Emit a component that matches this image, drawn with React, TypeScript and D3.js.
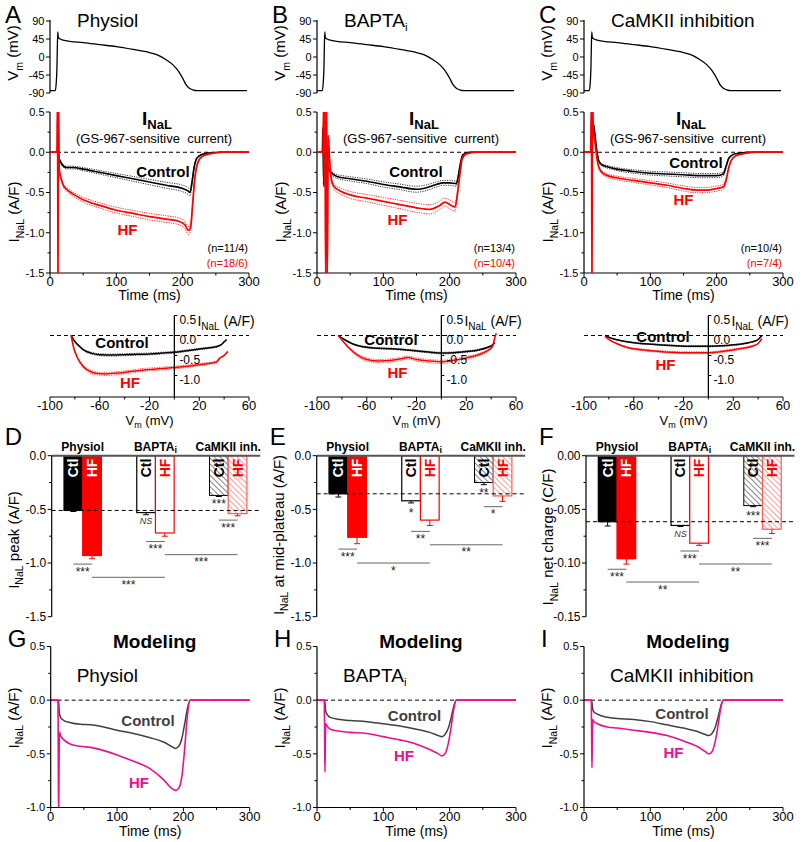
import React from 'react';
import * as d3 from 'd3';

type Pt = [number, number];

const FONT = 'Arial, "Liberation Sans", Helvetica, sans-serif';
const RED = '#ff0000';
const PINK = '#ec108c';
const DARK = '#404040';

// ---- AP-clamp waveform (same command for A, B, C), [ms, mV]
const apWave: Pt[] = [[0, -84], [8, -84], [9.5, -62], [10.5, -25], [11.2, 35], [11.8, 63], [12.4, 50], [14, 46], [20, 42], [30, 39], [50, 36], [75, 31], [100, 26], [125, 19], [150, 11], [165, 3], [175, -7], [185, -19], [190, -28], [195, -39], [200, -53], [205, -69], [210, -78], [215, -82], [222, -84], [297, -84]];

// ---- GS-967-sensitive INaL, mean traces [ms, A/F]
const inalCtlA: Pt[] = [[0, 0], [10, 0], [12, 0], [13, -0.05], [16, -0.12], [20, -0.17], [25, -0.19], [35, -0.19], [50, -0.21], [75, -0.25], [100, -0.29], [125, -0.33], [150, -0.37], [175, -0.41], [200, -0.45], [208, -0.48], [211, -0.5], [214, -0.38], [217, -0.2], [221, -0.08], [228, -0.03], [240, -0.01], [260, 0], [300, 0]];
const inalHfA: Pt[] = [[0, 0], [10.5, 0], [11.3, 0.6], [12.1, -1.6], [12.9, 0.6], [13.8, -0.2], [16, -0.3], [20, -0.41], [25, -0.46], [35, -0.52], [50, -0.59], [75, -0.66], [100, -0.72], [125, -0.76], [150, -0.8], [175, -0.83], [195, -0.86], [203, -0.9], [209, -0.97], [212, -0.93], [215, -0.65], [218, -0.35], [222, -0.15], [228, -0.06], [240, -0.02], [260, 0], [300, 0]];
const inalCtlB: Pt[] = [[0, 0], [8, 0], [9, 0.3], [10, -0.4], [11, 0.5], [12, 0.2], [14, -0.1], [17, -0.2], [20, -0.24], [30, -0.3], [50, -0.33], [75, -0.36], [100, -0.4], [125, -0.43], [150, -0.46], [165, -0.44], [180, -0.4], [190, -0.38], [200, -0.38], [210, -0.39], [213, -0.3], [216, -0.15], [220, -0.03], [230, 0], [300, 0]];
const inalHfB: Pt[] = [[0, 0], [9, 0], [10, 0.6], [11, -0.4], [12, 0.6], [13, -1.6], [14.5, 0.6], [15.5, -1.6], [17, 0.2], [19, -0.1], [22, -0.35], [26, -0.43], [35, -0.48], [50, -0.53], [75, -0.57], [100, -0.61], [125, -0.65], [150, -0.69], [170, -0.71], [185, -0.66], [193, -0.62], [200, -0.65], [208, -0.68], [212, -0.5], [215, -0.3], [219, -0.08], [225, -0.02], [240, 0], [300, 0]];
const inalCtlC: Pt[] = [[0, 0], [10, 0], [12, 0.1], [14, 0.35], [16, 0.25], [18, 0.1], [20, -0.02], [22, -0.1], [26, -0.15], [35, -0.18], [50, -0.21], [75, -0.24], [100, -0.26], [125, -0.27], [150, -0.28], [175, -0.29], [200, -0.29], [210, -0.27], [214, -0.18], [218, -0.08], [224, -0.03], [235, -0.01], [250, 0], [300, 0]];
const inalHfC: Pt[] = [[0, 0], [10, 0], [11.2, 0.6], [12, -1.6], [12.8, 0.6], [14, 0.3], [17, 0.1], [20, -0.1], [23, -0.2], [30, -0.27], [50, -0.32], [75, -0.35], [100, -0.38], [125, -0.41], [150, -0.45], [170, -0.47], [185, -0.47], [200, -0.45], [210, -0.43], [214, -0.35], [218, -0.2], [222, -0.1], [230, -0.04], [245, -0.01], [260, 0], [300, 0]];
// relative SEM of the traces (dotted envelopes)
const semCtl = [0.09, 0.08, 0.09];
const semHf = [0.05, 0.08, 0.07];

// ---- I-V relations during the AP [mV, A/F]
const ivCtlA: Pt[] = [[-83, 0], [-80, -0.15], [-76, -0.28], [-72, -0.38], [-67, -0.44], [-60, -0.48], [-50, -0.49], [-40, -0.48], [-30, -0.47], [-20, -0.46], [-10, -0.44], [0, -0.42], [10, -0.38], [20, -0.34], [30, -0.3], [35, -0.27], [38, -0.22], [40, -0.16], [42, -0.1]];
const ivHfA: Pt[] = [[-83, 0], [-81, -0.3], [-78, -0.55], [-74, -0.75], [-69, -0.88], [-62, -0.95], [-55, -0.96], [-45, -0.94], [-35, -0.9], [-25, -0.86], [-15, -0.84], [0, -0.8], [10, -0.77], [20, -0.73], [30, -0.69], [34, -0.66], [36, -0.58], [40, -0.5], [43, -0.4]];
const ivCtlB: Pt[] = [[-83, 0], [-78, -0.1], [-72, -0.2], [-65, -0.27], [-55, -0.31], [-40, -0.33], [-28, -0.36], [-15, -0.4], [0, -0.44], [10, -0.43], [20, -0.4], [30, -0.36], [37, -0.3], [41, -0.24], [43, -0.18]];
const ivHfB: Pt[] = [[-83, 0], [-79, -0.15], [-74, -0.32], [-68, -0.48], [-60, -0.6], [-50, -0.64], [-40, -0.62], [-32, -0.58], [-27, -0.55], [-20, -0.6], [-10, -0.64], [0, -0.66], [10, -0.62], [20, -0.56], [30, -0.48], [37, -0.38], [41, -0.28], [43, -0.05], [44, 0.05]];
const ivCtlC: Pt[] = [[-83, 0], [-78, -0.07], [-70, -0.13], [-60, -0.18], [-45, -0.22], [-30, -0.25], [-15, -0.27], [0, -0.27], [15, -0.25], [25, -0.22], [35, -0.16], [40, -0.1], [43, 0]];
const ivHfC: Pt[] = [[-83, -0.02], [-80, -0.1], [-74, -0.2], [-65, -0.3], [-50, -0.37], [-35, -0.41], [-20, -0.43], [0, -0.43], [15, -0.38], [25, -0.33], [35, -0.27], [40, -0.2], [43, -0.08]];

// ---- summary bars (D, E, F)
const groups = ['Physiol', 'BAPTA', 'CaMKII inh.'];
const peakCtl = [-0.51, -0.53, -0.37];
const peakHf = [-0.93, -0.72, -0.54];
const peakCtlErr = [0.01, 0.02, 0.01];
const peakHfErr = [0.03, 0.03, 0.02];
const plateauCtl = [-0.355, -0.42, -0.25];
const plateauHf = [-0.76, -0.6, -0.375];
const plateauCtlErr = [0.03, 0.02, 0.02];
const plateauHfErr = [0.06, 0.05, 0.05];
const chargeCtl = [-0.0615, -0.065, -0.0465];
const chargeHf = [-0.096, -0.0815, -0.0685];
const chargeCtlErr = [0.004, 0.001, 0.001];
const chargeHfErr = [0.005, 0.002, 0.004];

type Sig = { kind: 'pair' | 'cross' | 'mark'; g: number; g2?: number; y: number; label: string };
const sigPeak: Sig[] = [
  { kind: 'pair', g: 0, y: -1.01, label: '***' },
  { kind: 'cross', g: 0, g2: 1, y: -1.133, label: '***' },
  { kind: 'pair', g: 1, y: -0.8, label: '***' },
  { kind: 'cross', g: 1, g2: 2, y: -0.922, label: '***' },
  { kind: 'pair', g: 2, y: -0.6, label: '***' },
  { kind: 'mark', g: 1, y: -0.6, label: 'NS' },
  { kind: 'mark', g: 2, y: -0.422, label: '***' },
];
const sigPlateau: Sig[] = [
  { kind: 'pair', g: 0, y: -0.87, label: '***' },
  { kind: 'cross', g: 0, g2: 1, y: -1.0, label: '*' },
  { kind: 'pair', g: 1, y: -0.705, label: '**' },
  { kind: 'cross', g: 1, g2: 2, y: -0.83, label: '**' },
  { kind: 'pair', g: 2, y: -0.475, label: '*' },
  { kind: 'mark', g: 1, y: -0.505, label: '*' },
  { kind: 'mark', g: 2, y: -0.32, label: '**' },
];
const sigCharge: Sig[] = [
  { kind: 'pair', g: 0, y: -0.1058, label: '***' },
  { kind: 'cross', g: 0, g2: 1, y: -0.1177, label: '**' },
  { kind: 'pair', g: 1, y: -0.0888, label: '***' },
  { kind: 'cross', g: 1, g2: 2, y: -0.1009, label: '**' },
  { kind: 'pair', g: 2, y: -0.077, label: '***' },
  { kind: 'mark', g: 1, y: -0.0723, label: 'NS' },
  { kind: 'mark', g: 2, y: -0.0537, label: '***' },
];

// ---- modeling (G, H, I) [ms, A/F]
const modCtlG: Pt[] = [[0, 0], [11, 0], [12, -0.02], [13, -0.12], [15, -0.16], [20, -0.19], [30, -0.21], [45, -0.225], [60, -0.23], [80, -0.25], [100, -0.28], [125, -0.31], [150, -0.35], [170, -0.39], [182, -0.43], [188, -0.45], [193, -0.43], [198, -0.35], [202, -0.22], [206, -0.08], [210, 0], [300, 0]];
const modHfG: Pt[] = [[0, 0], [11, 0], [11.5, -0.6], [12, -1.1], [12.6, -0.6], [13.2, -0.3], [15, -0.33], [20, -0.37], [30, -0.41], [45, -0.43], [60, -0.44], [80, -0.47], [100, -0.51], [125, -0.57], [150, -0.64], [170, -0.74], [182, -0.82], [188, -0.84], [193, -0.82], [198, -0.7], [202, -0.45], [206, -0.15], [210, 0], [300, 0]];
const modCtlH: Pt[] = [[0, 0], [11, 0], [12, -0.02], [13, -0.1], [15, -0.13], [20, -0.16], [35, -0.18], [50, -0.19], [75, -0.2], [100, -0.22], [125, -0.24], [150, -0.27], [170, -0.3], [183, -0.33], [188, -0.34], [193, -0.32], [198, -0.26], [202, -0.17], [206, -0.06], [210, 0], [300, 0]];
const modHfH: Pt[] = [[0, 0], [11, 0], [11.6, -0.4], [12, -0.67], [12.5, -0.4], [13.2, -0.22], [15, -0.24], [20, -0.27], [35, -0.29], [50, -0.3], [75, -0.31], [100, -0.34], [125, -0.37], [150, -0.41], [170, -0.46], [183, -0.5], [188, -0.52], [193, -0.5], [198, -0.4], [202, -0.26], [206, -0.09], [210, 0], [300, 0]];
const modCtlI: Pt[] = [[0, 0], [11, 0], [12, -0.02], [13, -0.08], [15, -0.11], [20, -0.13], [35, -0.16], [50, -0.17], [75, -0.18], [100, -0.2], [125, -0.23], [150, -0.26], [170, -0.29], [183, -0.32], [188, -0.33], [193, -0.31], [198, -0.25], [202, -0.16], [206, -0.06], [210, 0], [300, 0]];
const modHfI: Pt[] = [[0, 0], [11, 0], [11.6, -0.4], [12, -0.63], [12.5, -0.4], [13.2, -0.18], [15, -0.2], [20, -0.22], [35, -0.25], [50, -0.26], [75, -0.28], [100, -0.3], [125, -0.33], [150, -0.38], [170, -0.43], [183, -0.48], [188, -0.5], [193, -0.48], [198, -0.38], [202, -0.24], [206, -0.08], [210, 0], [300, 0]];

const nCtl = ['(n=11/4)', '(n=13/4)', '(n=10/4)'];
const nHf = ['(n=18/6)', '(n=10/4)', '(n=7/4)'];

// layout
const colX = [50, 317, 584];
const colW = 199;
const inalCtl = [inalCtlA, inalCtlB, inalCtlC];
const inalHf = [inalHfA, inalHfB, inalHfC];
const ivCtl = [ivCtlA, ivCtlB, ivCtlC];
const ivHf = [ivHfA, ivHfB, ivHfC];
const modCtl = [modCtlG, modCtlH, modCtlI];
const modHf = [modHfG, modHfH, modHfI];
const ctlLabelPos = [[163, 177], [416, 177], [696, 168]];
const hfLabelPos = [[127.5, 235], [397.5, 225], [683.5, 205]];
const ivCtlLabel = [[122, 348], [391, 345], [663, 342]];
const ivHfLabel = [[130, 388], [397.5, 378], [665.5, 370]];
const modCtlLabel = [[148, 726], [414.5, 721], [682, 719]];
const modHfLabel = [[139, 788], [404, 761], [673.5, 758]];

const fmt1 = (v: number) => (Math.abs(v) < 1e-9 ? '0.0' : v.toFixed(1));
const fmt2 = (v: number) => (Math.abs(v) < 1e-9 ? '0.00' : v.toFixed(2));
const fmt0 = (v: number) => String(v);

const rel = (pts: Pt[], s: number): Pt[] => pts.map(([t, v]) => [t, v * (1 + s)]);

function Title({ i, x, y, fs }: { i: number; x: number; y: number; fs: number }) {
  if (i === 1) {
    return (
      <text x={x} y={y} fontSize={fs}>
        BAPTA<tspan fontSize={fs * 0.6} dy={fs * 0.22}>i</tspan>
      </text>
    );
  }
  return <text x={x} y={y} fontSize={fs}>{i === 0 ? 'Physiol' : 'CaMKII inhibition'}</text>;
}

function YLabel({ x, y, fs, main, sub, rest }: { x: number; y: number; fs: number; main: string; sub: string; rest: string }) {
  return (
    <text transform={`translate(${x},${y}) rotate(-90)`} textAnchor="middle" fontSize={fs}>
      {main}
      <tspan fontSize={fs * 0.7} dy={fs * 0.3}>{sub}</tspan>
      <tspan dy={-fs * 0.3}>{rest}</tspan>
    </text>
  );
}

function LeftAxis({ x, scale, ticks, minor = [], fmt, fs, top, bottom }: any) {
  return (
    <g>
      <line x1={x} x2={x} y1={top} y2={bottom} stroke="#000" strokeWidth={1.2} />
      {ticks.map((t: number) => (
        <g key={t}>
          <line x1={x - 4} x2={x} y1={scale(t)} y2={scale(t)} stroke="#000" />
          <text x={x - 5.5} y={scale(t)} dy="0.35em" textAnchor="end" fontSize={fs}>{fmt(t)}</text>
        </g>
      ))}
      {minor.map((t: number) => (
        <line key={'m' + t} x1={x - 2.5} x2={x} y1={scale(t)} y2={scale(t)} stroke="#000" />
      ))}
    </g>
  );
}

function BottomAxis({ y, scale, ticks, minor = [], fmt, fs, left, right, gap = 14 }: any) {
  return (
    <g>
      <line x1={left} x2={right} y1={y} y2={y} stroke="#000" strokeWidth={1.2} />
      {ticks.map((t: number) => (
        <g key={t}>
          <line x1={scale(t)} x2={scale(t)} y1={y} y2={y + 4} stroke="#000" />
          <text x={scale(t)} y={y + gap} textAnchor="middle" fontSize={fs}>{fmt(t)}</text>
        </g>
      ))}
      {minor.map((t: number) => (
        <line key={'m' + t} x1={scale(t)} x2={scale(t)} y1={y} y2={y + 2.5} stroke="#000" />
      ))}
    </g>
  );
}

function TopColumn({ i }: { i: number }) {
  const x0 = colX[i];
  const xT = d3.scaleLinear().domain([0, 300]).range([x0, x0 + colW]);
  const yV = d3.scaleLinear().domain([-90, 90]).range([93, 21]);
  const yI = d3.scaleLinear().domain([-1.5, 0.5]).range([273, 112]);
  const xV = d3.scaleLinear().domain([-100, 60]).range([x0, x0 + colW]);
  const yIV = d3.scaleLinear().domain([-1.5, 0.5]).range([395.5, 315.5]);
  const apLine = d3.line<Pt>().x(d => xT(d[0])).y(d => yV(d[1])).curve(d3.curveMonotoneX);
  const iLine = d3.line<Pt>().x(d => xT(d[0])).y(d => yI(d[1])).curve(d3.curveMonotoneX);
  const ivLine = d3.line<Pt>().x(d => xV(d[0])).y(d => yIV(d[1])).curve(d3.curveMonotoneX);
  const ax0 = xV(0);
  const letter = ['A', 'B', 'C'][i];
  return (
    <g>
      <text x={x0 - 45} y={23} fontSize={24}>{letter}</text>
      <Title i={i} x={x0 + 27} y={27} fs={19} />
      {/* Vm */}
      <LeftAxis x={x0} scale={yV} ticks={[90, 45, 0, -45, -90]} fmt={fmt0} fs={11} top={20} bottom={93} />
      <YLabel x={x0 - 32} y={53} fs={15} main="V" sub="m" rest=" (mV)" />
      <path d={apLine(apWave) || ''} fill="none" stroke="#000" strokeWidth={1.3} />

      {/* INaL time course */}
      <clipPath id={`clipI${i}`}>
        <rect x={x0} y={yI(0.5)} width={colW} height={yI(-1.5) - yI(0.5)} />
      </clipPath>
      <LeftAxis x={x0} scale={yI} ticks={[0.5, 0, -0.5, -1, -1.5]} minor={[0.25, -0.25, -0.75, -1.25]} fmt={fmt1} fs={11} top={yI(0.5)} bottom={yI(-1.5)} />
      <BottomAxis y={yI(-1.5)} scale={xT} ticks={[0, 100, 200, 300]} minor={[50, 150, 250]} fmt={fmt0} fs={13} left={x0} right={x0 + colW} gap={12.5} />
      <text x={x0 + colW / 2} y={300} textAnchor="middle" fontSize={14}>Time (ms)</text>
      <YLabel x={x0 - 31} y={212} fs={15} main="I" sub="NaL" rest=" (A/F)" />
      <line x1={x0} x2={x0 + colW} y1={yI(0)} y2={yI(0)} stroke="#000" strokeDasharray="4,3" strokeWidth={1} />
      <g clipPath={`url(#clipI${i})`}>
        {[semCtl[i], -semCtl[i]].map((s, k) => (
          <path key={'c' + k} d={iLine(rel(inalCtl[i], s)) || ''} fill="none" stroke="#000" strokeWidth={0.8} strokeDasharray="1.2,1.2" />
        ))}
        <path d={iLine(inalCtl[i]) || ''} fill="none" stroke="#000" strokeWidth={1.6} />
        {[semHf[i], -semHf[i]].map((s, k) => (
          <path key={'h' + k} d={iLine(rel(inalHf[i], s)) || ''} fill="none" stroke={RED} strokeWidth={0.8} strokeDasharray="1.2,1.2" />
        ))}
        <path d={iLine(inalHf[i]) || ''} fill="none" stroke={RED} strokeWidth={1.7} />
      </g>
      <text x={x0 + 107} y={125} textAnchor="middle" fontSize={19} fontWeight="bold">
        I<tspan fontSize={13} dy={4}>NaL</tspan>
      </text>
      <text x={x0 + 104} y={143} textAnchor="middle" fontSize={13}>(GS-967-sensitive{'\u00a0 '}current)</text>
      <text x={ctlLabelPos[i][0]} y={ctlLabelPos[i][1]} textAnchor="middle" fontSize={15} fontWeight="bold">Control</text>
      <text x={hfLabelPos[i][0]} y={hfLabelPos[i][1]} textAnchor="middle" fontSize={15} fontWeight="bold" fill={RED}>HF</text>
      <text x={x0 + colW - 1} y={252} textAnchor="end" fontSize={11}>{nCtl[i]}</text>
      <text x={x0 + colW - 1} y={267} textAnchor="end" fontSize={11} fill={RED}>{nHf[i]}</text>

      {/* I-V */}
      <line x1={xV(-100)} x2={xV(60)} y1={yIV(0)} y2={yIV(0)} stroke="#000" strokeDasharray="4,3" strokeWidth={1} />
      {[semCtl[i], -semCtl[i]].map((s, k) => (
        <path key={'ic' + k} d={ivLine(rel(ivCtl[i], s * 0.6)) || ''} fill="none" stroke="#000" strokeWidth={0.7} strokeDasharray="1.2,1.2" />
      ))}
      <path d={ivLine(ivCtl[i]) || ''} fill="none" stroke="#000" strokeWidth={1.5} />
      {[semHf[i], -semHf[i]].map((s, k) => (
        <path key={'ih' + k} d={ivLine(rel(ivHf[i], s * 0.8)) || ''} fill="none" stroke={RED} strokeWidth={0.7} strokeDasharray="1.2,1.2" />
      ))}
      <path d={ivLine(ivHf[i]) || ''} fill="none" stroke={RED} strokeWidth={1.5} />
      <line x1={ax0} x2={ax0} y1={yIV(0.5)} y2={397} stroke="#000" strokeWidth={1.3} />
      {[0.5, 0, -0.5, -1].map(t => (
        <g key={'iy' + t}>
          <line x1={ax0} x2={ax0 + 3} y1={yIV(t)} y2={yIV(t)} stroke="#000" />
          <text x={ax0 + 5} y={yIV(t) + 4} dy="0.35em" fontSize={12}>{fmt1(t)}</text>
        </g>
      ))}
      <text x={ax0 + 23} y={326} fontSize={14}>
        I<tspan fontSize={10} dy={4}>NaL</tspan><tspan dy={-4}> (A/F)</tspan>
      </text>
      <BottomAxis y={397} scale={xV} ticks={[-100, -60, -20, 20, 60]} minor={[-80, -40, 0, 40]} fmt={fmt0} fs={13} left={x0} right={x0 + colW} gap={12.5} />
      <text x={xV(-20)} y={425} textAnchor="middle" fontSize={13}>
        V<tspan fontSize={9} dy={3}>m</tspan><tspan dy={-3}> (mV)</tspan>
      </text>
      <text x={ivCtlLabel[i][0]} y={ivCtlLabel[i][1]} textAnchor="middle" fontSize={15} fontWeight="bold">Control</text>
      <text x={ivHfLabel[i][0]} y={ivHfLabel[i][1]} textAnchor="middle" fontSize={15} fontWeight="bold" fill={RED}>HF</text>
    </g>
  );
}

const barAxisX = [51.7, 316.7, 586];
const barYMin = [-1.5, -1.5, -0.15];
const barTicks = [[0, -0.5, -1, -1.5], [0, -0.5, -1, -1.5], [0, -0.05, -0.1, -0.15]];
const barMinor = [[-0.25, -0.75, -1.25], [-0.25, -0.75, -1.25], [-0.025, -0.075, -0.125]];
const barCtl = [peakCtl, plateauCtl, chargeCtl];
const barHf = [peakHf, plateauHf, chargeHf];
const barCtlErr = [peakCtlErr, plateauCtlErr, chargeCtlErr];
const barHfErr = [peakHfErr, plateauHfErr, chargeHfErr];
const barSig = [sigPeak, sigPlateau, sigCharge];
const barYLabel = [' peak (A/F)', ' at mid-plateau (A/F)', ' net charge (C/F)'];
const barYLabelY = [540, 535, 537];
const ctlFill = ['#000', '#fff', 'url(#hatchK)'];
const hfFill = [RED, '#fff', 'url(#hatchR)'];
const ctlText = ['#fff', '#000', '#000'];
const hfText = ['#fff', RED, RED];

function BarPanel({ p }: { p: number }) {
  const ax = barAxisX[p];
  const y = d3.scaleLinear().domain([barYMin[p], 0]).range([616.7, 455.7]);
  const gx = d3.scalePoint<number>().domain([0, 1, 2]).range([ax + 31, ax + 176.5]);
  const side = d3.scaleBand<string>().domain(['Ctl', 'HF']).range([-18.7, 18.7]);
  const bw = side.bandwidth();
  const cx = (g: number, s: string) => (gx(g) as number) + (side(s) as number) + bw / 2;
  const fmt = p === 2 ? fmt2 : fmt1;
  const letter = ['D', 'E', 'F'][p];
  return (
    <g>
      <text x={ax - 47} y={445} fontSize={24}>{letter}</text>
      {groups.map((g, k) => (
        <text key={g} x={gx(k)} y={451} textAnchor="middle" fontSize={12} fontWeight="bold">
          {g}{k === 1 ? <tspan fontSize={9} dy={2}>i</tspan> : null}
        </text>
      ))}
      {groups.map((g, k) => {
        const c0 = (gx(k) as number) + (side('Ctl') as number);
        const h0 = (gx(k) as number) + (side('HF') as number);
        const vc = barCtl[p][k];
        const vh = barHf[p][k];
        return (
          <g key={'b' + g}>
            <rect x={c0} y={y(0)} width={bw} height={y(vc) - y(0)} fill={ctlFill[k]} stroke="#000" strokeWidth={k === 2 ? 1 : 1.2} />
            <rect x={h0} y={y(0)} width={bw} height={y(vh) - y(0)} fill={hfFill[k]} stroke={k === 2 ? '#ff5a5a' : RED} strokeWidth={1.2} />
            <line x1={c0 + bw / 2} x2={c0 + bw / 2} y1={y(vc)} y2={y(vc - barCtlErr[p][k])} stroke="#000" />
            <line x1={c0 + bw / 2 - 3} x2={c0 + bw / 2 + 3} y1={y(vc - barCtlErr[p][k])} y2={y(vc - barCtlErr[p][k])} stroke="#000" />
            <line x1={h0 + bw / 2} x2={h0 + bw / 2} y1={y(vh)} y2={y(vh - barHfErr[p][k])} stroke={RED} />
            <line x1={h0 + bw / 2 - 3} x2={h0 + bw / 2 + 3} y1={y(vh - barHfErr[p][k])} y2={y(vh - barHfErr[p][k])} stroke={RED} />
            <text transform={`translate(${c0 + bw / 2 + 5},${y(0) + 3}) rotate(-90)`} textAnchor="end" fontSize={14} fontWeight="bold" fill={ctlText[k]}>Ctl</text>
            <text transform={`translate(${h0 + bw / 2 + 5},${y(0) + 3}) rotate(-90)`} textAnchor="end" fontSize={14} fontWeight="bold" fill={hfText[k]}>HF</text>
          </g>
        );
      })}
      <line x1={ax} x2={ax + 208.5} y1={y(0)} y2={y(0)} stroke="#555" strokeWidth={2} />
      <line x1={ax} x2={ax + 208.5} y1={y(barCtl[p][0])} y2={y(barCtl[p][0])} stroke="#000" strokeDasharray="4,3" strokeWidth={1} />
      <LeftAxis x={ax} scale={y} ticks={barTicks[p]} minor={barMinor[p]} fmt={fmt} fs={12} top={y(0)} bottom={y(barYMin[p])} />
      <YLabel x={ax - 33} y={barYLabelY[p]} fs={15} main="I" sub="NaL" rest={barYLabel[p]} />
      {barSig[p].map((s, k) => {
        if (s.kind === 'mark') {
          const xm = cx(s.g, 'Ctl');
          return s.label === 'NS'
            ? <text key={k} x={xm} y={y(s.y) + 3.5} textAnchor="middle" fontSize={9} fontStyle="italic" fill="#333">NS</text>
            : <text key={k} x={xm} y={y(s.y) + 6.6} textAnchor="middle" fontSize={12} fill="#222">{s.label}</text>;
        }
        const xa = s.kind === 'pair' ? cx(s.g, 'Ctl') : cx(s.g, 'HF');
        const xb = s.kind === 'pair' ? cx(s.g, 'HF') : cx(s.g2 as number, 'HF');
        return (
          <g key={k}>
            <line x1={xa} x2={xb} y1={y(s.y)} y2={y(s.y)} stroke="#666" strokeWidth={1} />
            <text x={(xa + xb) / 2} y={y(s.y) + 11.6} textAnchor="middle" fontSize={12} fill="#222">{s.label}</text>
          </g>
        );
      })}
    </g>
  );
}

function ModelPanel({ i }: { i: number }) {
  const x0 = colX[i] + (i === 0 ? 0.7 : 0);
  const xT = d3.scaleLinear().domain([0, 300]).range([x0, x0 + colW]);
  const y = d3.scaleLinear().domain([-1, 0.5]).range([807.5, 646.5]);
  const line = d3.line<Pt>().x(d => xT(d[0])).y(d => y(d[1])).curve(d3.curveMonotoneX);
  const letter = ['G', 'H', 'I'][i];
  return (
    <g>
      <text x={x0 - 43} y={647} fontSize={24}>{letter}</text>
      <text x={x0 + 104} y={648} textAnchor="middle" fontSize={19} fontWeight="bold">Modeling</text>
      <Title i={i} x={x0 + 26} y={682} fs={19} />
      <clipPath id={`clipM${i}`}>
        <rect x={x0} y={y(0.5)} width={colW} height={y(-1) - y(0.5)} />
      </clipPath>
      <line x1={x0} x2={x0 + colW} y1={y(0)} y2={y(0)} stroke="#000" strokeDasharray="4,3" strokeWidth={1} />
      <g clipPath={`url(#clipM${i})`}>
        <path d={line(modCtl[i]) || ''} fill="none" stroke={DARK} strokeWidth={1.5} />
        <path d={line(modHf[i]) || ''} fill="none" stroke={PINK} strokeWidth={1.6} />
      </g>
      <LeftAxis x={x0} scale={y} ticks={[0.5, 0, -0.5, -1]} minor={[0.25, -0.25, -0.75]} fmt={fmt1} fs={11} top={y(0.5)} bottom={y(-1)} />
      <BottomAxis y={y(-1)} scale={xT} ticks={[0, 100, 200, 300]} minor={[50, 150, 250]} fmt={fmt0} fs={13} left={x0} right={x0 + colW} gap={13} />
      <text x={x0 + colW / 2} y={836} textAnchor="middle" fontSize={14}>Time (ms)</text>
      <YLabel x={x0 - 32} y={718} fs={15} main="I" sub="NaL" rest=" (A/F)" />
      <text x={modCtlLabel[i][0]} y={modCtlLabel[i][1]} textAnchor="middle" fontSize={15} fontWeight="bold" fill={DARK}>Control</text>
      <text x={modHfLabel[i][0]} y={modHfLabel[i][1]} textAnchor="middle" fontSize={15} fontWeight="bold" fill={PINK}>HF</text>
    </g>
  );
}

export default function App() {
  return (
    <svg width={800} height={842} style={{ position: 'absolute', left: 0, top: 0, display: 'block' }} fontFamily={FONT}>
      <defs>
        <pattern id="hatchK" width={4} height={4} patternUnits="userSpaceOnUse" patternTransform="rotate(-45)">
          <rect width={4} height={4} fill="#fff" />
          <line x1={0} y1={0} x2={0} y2={4} stroke="#444" strokeWidth={1.3} />
        </pattern>
        <pattern id="hatchR" width={4} height={4} patternUnits="userSpaceOnUse" patternTransform="rotate(-45)">
          <rect width={4} height={4} fill="#fff" />
          <line x1={0} y1={0} x2={0} y2={4} stroke="#ff6a6a" strokeWidth={1.3} />
        </pattern>
      </defs>
      <rect width={800} height={842} fill="#fff" />
      {[0, 1, 2].map(i => <TopColumn key={'t' + i} i={i} />)}
      {[0, 1, 2].map(p => <BarPanel key={'b' + p} p={p} />)}
      {[0, 1, 2].map(i => <ModelPanel key={'m' + i} i={i} />)}
    </svg>
  );
}
